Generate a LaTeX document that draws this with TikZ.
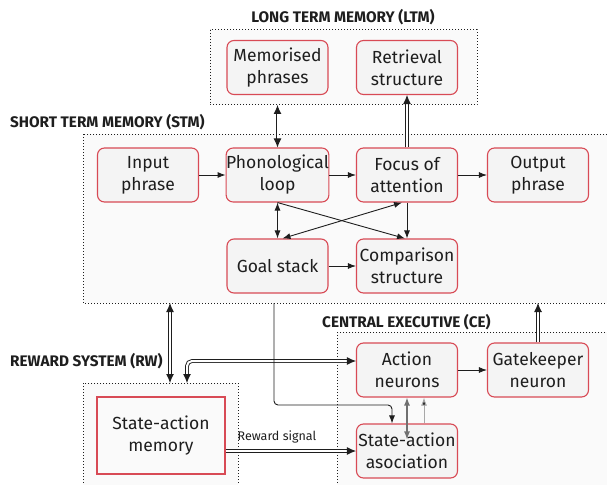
\documentclass[tikz,border=0pt]{standalone}
\usepackage{fontspec}
\setmainfont{Fira Sans}
\usetikzlibrary{arrows.meta}
\definecolor{boxred}{HTML}{D84A55}
\definecolor{boxfill}{HTML}{F4F4F4}
\definecolor{regfill}{HTML}{FAFAFA}
\definecolor{ink}{HTML}{1E1E1E}
\definecolor{midgray}{HTML}{707070}
\definecolor{lightgray}{HTML}{A8A8A8}
\begin{document}
\begin{tikzpicture}[x=1pt,y=-1pt,
  region/.style={draw=ink, dotted, line width=1pt, fill=regfill},
  regionlabel/.style={font=\fontsize{15.3}{18}\selectfont\bfseries, text=ink, inner sep=0pt},
  unit/.style={draw=boxred, line width=1.1pt, fill=boxfill, rounded corners=7pt,
    minimum width=101pt, minimum height=54pt, align=center, text=ink, inner sep=0pt,
    font=\fontsize{17.5}{22}\selectfont},
  memunit/.style={unit, rounded corners=0pt, minimum width=128pt, minimum height=77pt, fill=regfill},
  thin/.style={draw=ink, line width=0.9pt, -{Latex[length=8pt,width=6pt]}},
  thinboth/.style={thin, {Latex[length=8pt,width=6pt]}-{Latex[length=8pt,width=6pt]}},
  dbl/.style={draw=ink, line width=0.9pt, double=white, double distance=2pt,
    -{Latex[length=9pt,width=8pt]}},
  dblboth/.style={dbl, {Latex[length=9pt,width=8pt]}-{Latex[length=9pt,width=8pt]}},
]
\useasboundingbox (0,0) rectangle (607,484);
\fill[white] (0,0) rectangle (607,484);

% memory regions
\draw[region] (210,30) rectangle (477,105);
\node[regionlabel] (ltmlabel) at (343,17) {LONG TERM MEMORY (LTM)};
\draw[region] (83,134) rectangle (620,303);
\node[regionlabel, anchor=west] (stmlabel) at (10,122) {SHORT TERM MEMORY (STM)};
\draw[region] (83,383) rectangle (238,495);
\node[regionlabel, anchor=west] (rwlabel) at (10,361) {REWARD SYSTEM (RW)};
\draw[region] (337,332) rectangle (620,495);
\node[regionlabel, anchor=west] (celabel) at (322,322) {CENTRAL EXECUTIVE (CE)};

% region borders used as connector ends
\coordinate (ltmS) at (277.5,105);
\coordinate (stmA) at (170,303);
\coordinate (rwA) at (170,383);
\coordinate (rwB) at (187,383);
\coordinate (stmB) at (274,303);
\coordinate (stmC) at (538,303);

% long term memory
\node[unit] (mem) at (277.5,67.5) {Memorised\\phrases};
\node[unit] (ret) at (407,67.5) {Retrieval\\structure};

% short term memory
\node[unit] (inp) at (148,175) {Input\\phrase};
\node[unit] (phon) at (277.5,175) {Phonological\\loop};
\node[unit] (foc) at (407,175) {Focus of\\attention};
\node[unit] (out) at (538,175) {Output\\phrase};
\node[unit] (goal) at (277.5,266) {Goal stack};
\node[unit] (comp) at (407,266) {Comparison\\structure};

% reward system
\node[memunit] (sam) at (161,435.5) {State-action\\memory};

% central executive
\node[unit] (act) at (407,370) {Action\\neurons};
\node[unit] (gate) at (538,370) {Gatekeeper\\neuron};
\node[unit] (saa) at (407,451) {State-action\\asociation};

% connectors
\draw[dblboth] (ltmS) -- (phon.north);
\draw[dbl] (foc.north) -- (ret.south);
\draw[thin] (inp) -- (phon);
\draw[thin] (phon) -- (foc);
\draw[thin] (foc) -- (out);
\draw[thinboth] (phon.south) -- (goal.north);
\draw[thin] (phon.south) -- ([xshift=-2pt]comp.north);
\draw[thinboth] ([xshift=5pt]goal.north) -- ([xshift=-5pt]foc.south);
\draw[thin] (foc.south) -- (comp.north);
\draw[thin] (goal) -- (comp);

\draw[dblboth] (stmA) -- (rwA);
\draw[dblboth, rounded corners=5pt] ([yshift=9pt]act.west) -| (rwB);
\draw[thin, rounded corners=4pt] (stmB) |- (392,405) -- ([xshift=-15pt]saa.north);
\draw[draw=midgray, line width=1.2pt, {Latex[length=8pt,width=6pt]}-{Latex[length=8pt,width=6pt]}]
  (act.south) -- ([yshift=-16pt]saa.north);
\draw[draw=lightgray, line width=1pt, -{Latex[length=8pt,width=6pt,fill=ink]}]
  ([xshift=17pt]saa.north) -- ([xshift=17pt]act.south);
\draw[thin] (act) -- (gate);
\draw[dbl] (gate.north) -- (stmC);
\draw[dbl] (sam.east |- saa.west) -- (saa.west);
\node[font=\fontsize{12.5}{15}\selectfont, text=ink, inner sep=0pt] (rsig) at (277,437) {Reward signal};
\end{tikzpicture}
\end{document}
